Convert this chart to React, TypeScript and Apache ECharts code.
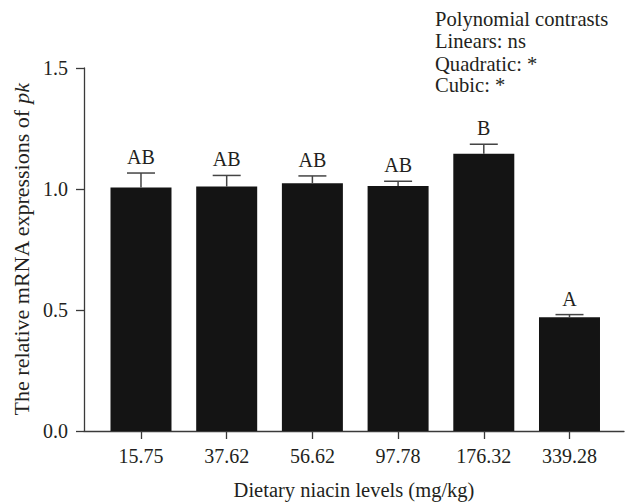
import React, { useEffect, useRef } from "react";
import * as echarts from "echarts";

const categories = ["15.75", "37.62", "56.62", "97.78", "176.32", "339.28"];
const means = [1.006, 1.01, 1.024, 1.012, 1.146, 0.47];
const errors = [0.06, 0.046, 0.03, 0.02, 0.039, 0.011];
const letters = ["AB", "AB", "AB", "AB", "B", "A"];
const yTicks = [0, 0.5, 1.0, 1.5];
const contrastLines = ["Polynomial contrasts", "Linears: ns", "Quadratic: *", "Cubic: *"];

const FONT = "'Liberation Serif', 'DejaVu Serif', serif";
const TXT = "#231f20";
const AX = "#3a3a3a";

export default function App() {
  const ref = useRef<HTMLDivElement>(null);
  useEffect(() => {
    if (!ref.current) return;
    const chart = echarts.init(ref.current, null, { renderer: "svg" });
    const idx = categories.map((_, i) => i);
    const lineYs = [19, 41, 63.5, 85];
    chart.setOption({
      animation: false,
      textStyle: { fontFamily: FONT, color: TXT },
      grid: {
        left: 84,
        right: 1,
        top: 68,
        bottom: 71,
        containLabel: false,
        outerBoundsMode: "none",
      },
      graphic: contrastLines.map((t, i) => ({
        type: "text",
        x: 435,
        y: lineYs[i],
        style: {
          text: t,
          font: `20.6px ${FONT}`,
          fill: TXT,
          lineHeight: 19,
          textVerticalAlign: "middle",
        },
      })),
      xAxis: {
        type: "value",
        min: -0.665,
        max: 5.636,
        name: "Dietary niacin levels (mg/kg)",
        nameLocation: "middle",
        nameGap: 48,
        nameTextStyle: { fontSize: 20.5, fontFamily: FONT, color: TXT },
        splitLine: { show: false },
        axisLine: { show: true, onZero: false, lineStyle: { color: AX, width: 1.3 } },
        axisTick: {
          show: true,
          customValues: idx,
          length: 8,
          lineStyle: { color: AX, width: 1.3 },
        },
        axisLabel: {
          customValues: idx,
          formatter: (v: number) => categories[Math.round(v)] ?? "",
          fontSize: 20,
          fontFamily: FONT,
          color: TXT,
          margin: 15,
        },
      },
      yAxis: {
        type: "value",
        min: 0,
        max: 1.5,
        interval: 0.5,
        name: "The relative mRNA expressions of {i|pk}",
        nameLocation: "middle",
        nameGap: 50,
        nameRotate: 90,
        nameTextStyle: {
          fontSize: 22,
          fontFamily: FONT,
          color: TXT,
          rich: { i: { fontStyle: "italic", fontSize: 22, fontFamily: FONT, color: TXT } },
        },
        splitLine: { show: false },
        axisLine: { show: true, onZero: false, lineStyle: { color: AX, width: 1.3 } },
        axisTick: { show: true, length: 8, lineStyle: { color: AX, width: 1.3 } },
        axisLabel: {
          fontSize: 20,
          fontFamily: FONT,
          color: TXT,
          margin: 16,
          formatter: (v: number) => (yTicks.includes(v) ? v.toFixed(1) : ""),
        },
      },
      series: [
        {
          type: "bar",
          data: means.map((m, i) => [i, m]),
          barWidth: 61,
          itemStyle: { color: "#141414" },
          z: 2,
        },
        {
          type: "custom",
          data: means.map((m, i) => [i, m, errors[i], i]),
          z: 3,
          renderItem: (params: any, api: any) => {
            const x = api.value(0);
            const m = api.value(1);
            const e = api.value(2);
            const k = api.value(3);
            const top = api.coord([x, m]);
            const cap = api.coord([x, m + e]);
            const hw = 14;
            return {
              type: "group",
              children: [
                {
                  type: "line",
                  shape: { x1: top[0], y1: top[1], x2: cap[0], y2: cap[1] },
                  style: { stroke: "#444", lineWidth: 1.5 },
                },
                {
                  type: "line",
                  shape: { x1: cap[0] - hw, y1: cap[1], x2: cap[0] + hw, y2: cap[1] },
                  style: { stroke: "#444", lineWidth: 1.5 },
                },
                {
                  type: "text",
                  x: cap[0],
                  y: cap[1] - 16,
                  style: {
                    text: letters[k],
                    font: `20px ${FONT}`,
                    fill: TXT,
                    textAlign: "center",
                    textVerticalAlign: "middle",
                  },
                },
              ],
            };
          },
        },
      ],
    });
    return () => chart.dispose();
  }, []);
  return (
    <div
      ref={ref}
      style={{ position: "absolute", left: 0, top: 0, width: 625, height: 502 }}
    />
  );
}
